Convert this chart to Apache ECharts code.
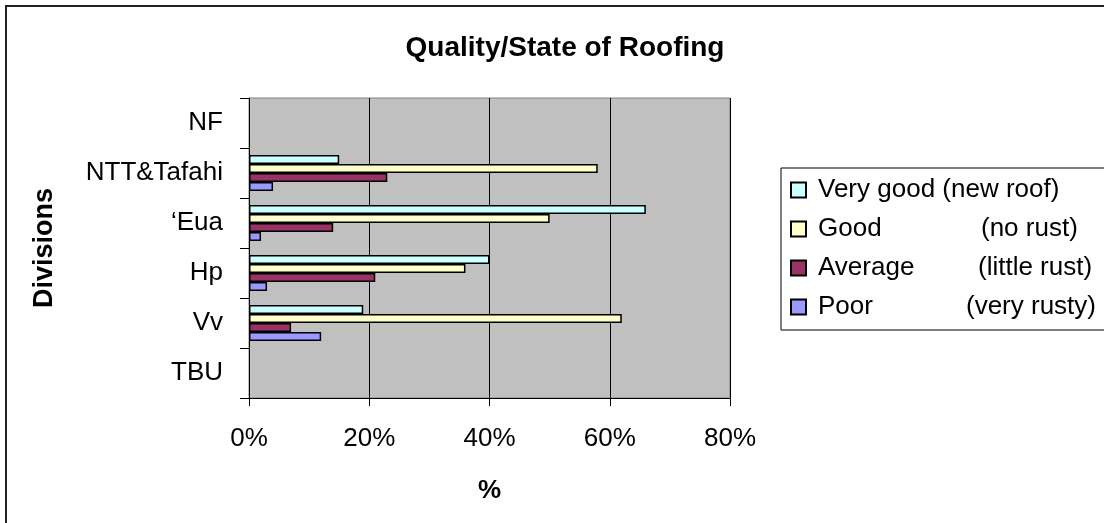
<!DOCTYPE html>
<html>
<head>
<meta charset="utf-8">
<script src="https://cdn.jsdelivr.net/npm/echarts@6/dist/echarts.min.js"></script>
<style>
  html, body { margin: 0; padding: 0; background: #fff; }
  #chart { width: 1104px; height: 523px; }
</style>
</head>
<body>
<div id="chart"></div>
<script>
// divisions, top to bottom
const divisions = ['NF', 'NTT&Tafahi', '\u2018Eua', 'Hp', 'Vv', 'TBU']
const seriesNames = ['Very good', 'Good', 'Average', 'Poor']
const seriesNotes = ['(new roof)', '(no rust)', '(little rust)', '(very rusty)']
const seriesColors = ['#ccffff', '#ffffcc', '#993366', '#9999ff']

// % of roofs per division
const veryGood = [null, 15, 66, 40, 19, null]
const good = [null, 58, 50, 36, 62, null]
const average = [null, 23, 14, 21, 7, null]
const poor = [null, 4, 2, 3, 12, null]

const xTicks = [0, 20, 40, 60, 80]

const FONT = '"Liberation Sans", Arial, sans-serif'
const chart = echarts.init(document.getElementById('chart'), null, { renderer: 'canvas' })

const values = [veryGood, good, average, poor]

const option = {
  animation: false,
  backgroundColor: '#fff',
  textStyle: { fontFamily: FONT, color: '#000' },
  title: {
    text: 'Quality/State of Roofing',
    left: 560,
    top: 29,
    textAlign: 'center',
    textStyle: { fontFamily: FONT, fontSize: 28, fontWeight: 'bold', color: '#000' },
  },
  graphic: [
    {
      type: 'rect',
      shape: { x: 6, y: 6, width: 1300, height: 700 },
      style: { fill: 'none', stroke: '#222', lineWidth: 2 },
      z: -1,
    },
  ],
  legend: {
    orient: 'vertical',
    left: 781,
    top: 168,
    padding: [9, 60, 10, 9],
    itemGap: 13,
    itemWidth: 15,
    itemHeight: 15,
    icon: 'rect',
    borderColor: '#000',
    borderWidth: 1,
    data: seriesNames,
    formatter: (name) => {
      const i = seriesNames.indexOf(name)
      if (i === 0) return name + ' ' + seriesNotes[i]
      return `{n${i}|${name}}${seriesNotes[i]}`
    },
    textStyle: {
      fontFamily: FONT,
      fontSize: 26,
      color: '#000',
      padding: [0, 0, 0, 7],
      rich: {
        n1: { fontFamily: FONT, fontSize: 26, width: 163 },
        n2: { fontFamily: FONT, fontSize: 26, width: 160 },
        n3: { fontFamily: FONT, fontSize: 26, width: 148 },
      },
    },
  },
  grid: {
    left: 249,
    top: 98,
    width: 481,
    height: 300,
    show: true,
    backgroundColor: '#c0c0c0',
    borderColor: '#808080',
    borderWidth: 1,
    outerBoundsMode: 'none',
  },
  xAxis: {
    type: 'value',
    min: xTicks[0],
    max: xTicks[xTicks.length - 1],
    interval: xTicks[1] - xTicks[0],
    name: '%',
    nameLocation: 'middle',
    nameGap: 80,
    nameTextStyle: { fontFamily: FONT, fontSize: 26, fontWeight: 'bold', color: '#000' },
    axisLine: { show: true, lineStyle: { color: '#000', width: 1 } },
    axisTick: { show: true, length: 8, lineStyle: { color: '#000' } },
    axisLabel: {
      formatter: '{value}%',
      fontFamily: FONT,
      fontSize: 26,
      color: '#000',
      margin: 28,
    },
    splitLine: { show: true, lineStyle: { color: '#000', width: 1 } },
  },
  yAxis: {
    type: 'category',
    inverse: true,
    data: divisions,
    name: 'Divisions',
    nameLocation: 'middle',
    nameRotate: 90,
    nameGap: 191,
    nameTextStyle: { fontFamily: FONT, fontSize: 27, fontWeight: 'bold', color: '#000' },
    axisLine: { show: true, lineStyle: { color: '#000', width: 1 } },
    axisTick: { show: true, length: 9, lineStyle: { color: '#000' } },
    axisLabel: { fontFamily: FONT, fontSize: 26, color: '#000', margin: 26 },
    splitLine: { show: false },
  },
  series: seriesNames.map((name, i) => ({
    name,
    type: 'bar',
    data: values[i],
    barGap: '0%',
    barCategoryGap: '28%',
    itemStyle: { color: seriesColors[i], borderColor: '#000', borderWidth: 1.5 },
  })),
}

chart.setOption(option)
</script>
</body>
</html>
